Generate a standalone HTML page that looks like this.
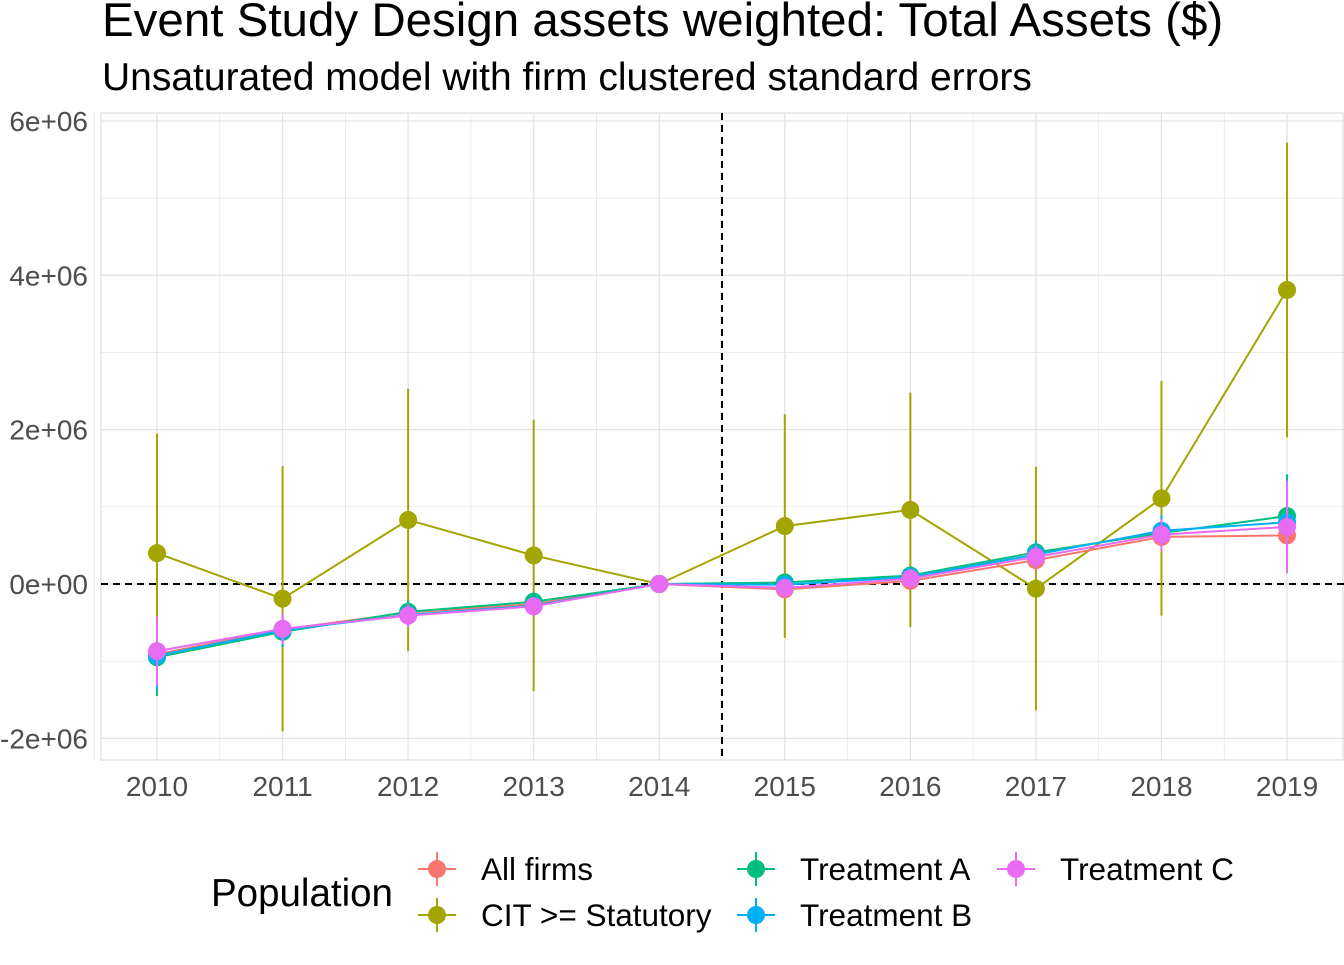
<!DOCTYPE html>
<html><head><meta charset="utf-8"><style>
body{margin:0;background:#fff;width:1344px;height:960px;overflow:hidden;font-family:"Liberation Sans",sans-serif}
</style></head><body>
<svg id="chart" width="1344" height="960" xmlns="http://www.w3.org/2000/svg" font-family="Liberation Sans, sans-serif">
<text x="102" y="36" font-size="47.5" fill="#000">Event Study Design assets weighted: Total Assets ($)</text>
<text x="102" y="90" font-size="39" fill="#000">Unsaturated model with firm clustered standard errors</text>
<g id="grid"></g>
<g id="axes"></g>
<g id="series"></g>
<g id="legend">
<text x="211" y="906" font-size="38.5" fill="#000">Population</text>
</g>
</svg>
<script>
const years = [2010,2011,2012,2013,2014,2015,2016,2017,2018,2019];
const seriesNames = ["All firms","CIT >= Statutory","Treatment A","Treatment B","Treatment C"];
const colors = ["#F8766D","#A3A500","#00BF7D","#00B0F6","#E76BF3"];
const allFirms = [-0.91,-0.59,-0.37,-0.26,0,-0.07,0.04,0.31,0.61,0.63];
const allFirmsSE = [0.25,0.2,0.15,0.12,0,0.1,0.12,0.15,0.2,0.3];
const cit = [0.40,-0.19,0.83,0.37,0,0.75,0.96,-0.06,1.11,3.81];
const citSE = [1.55,1.72,1.70,1.76,0,1.45,1.52,1.58,1.52,1.91];
const treatA = [-0.95,-0.62,-0.36,-0.23,0,0.02,0.11,0.41,0.66,0.88];
const treatASE = [0.5,0.2,0.15,0.12,0,0.1,0.12,0.15,0.2,0.54];
const treatB = [-0.93,-0.60,-0.40,-0.28,0,-0.01,0.09,0.38,0.69,0.80];
const treatBSE = [0.45,0.2,0.15,0.12,0,0.1,0.12,0.15,0.2,0.45];
const treatC = [-0.87,-0.58,-0.41,-0.29,0,-0.05,0.07,0.35,0.64,0.74];
const treatCSE = [0.45,0.2,0.15,0.12,0,0.1,0.12,0.15,0.2,0.6];
const yTicks = [-2,0,2,4,6];
const yTickLabels = ["-2e+06","0e+00","2e+06","4e+06","6e+06"];

const NS="http://www.w3.org/2000/svg";
const PL=101,PR=1344,PT=113,PB=760;
const X=y=>157+(y-2010)*125.56;
const Y=v=>584-v*77.17;
function mk(parent,tag,attrs){const e=document.createElementNS(NS,tag);for(const k in attrs)e.setAttribute(k,attrs[k]);document.getElementById(parent).appendChild(e);return e;}

for(let v=-2;v<=6;v+=1){const e=mk('grid','line',{x1:PL,x2:PR,y1:Y(v),y2:Y(v),stroke:'#e3e3e3','stroke-width':v%2===0?1.3:0.7});

}
for(let yr=2009.5;yr<=2019.5;yr+=0.5){const e=mk('grid','line',{x1:X(yr),x2:X(yr),y1:PT,y2:PB,stroke:'#e3e3e3','stroke-width':Number.isInteger(yr)?1.3:0.7});

}
const fr=mk('grid','rect',{x:PL,y:PT,width:PR-PL-1,height:PB-PT,fill:'none',stroke:'#d6d6d6','stroke-width':1});



yTicks.forEach((t,i)=>{const e=mk('axes','text',{x:88,y:Y(t)+10,'text-anchor':'end','font-size':28,fill:'#4d4d4d'});e.textContent=yTickLabels[i];

});
years.forEach(yr=>{const e=mk('axes','text',{x:X(yr),y:796,'text-anchor':'middle','font-size':28,fill:'#4d4d4d'});e.textContent=yr;

});

const h=mk('axes','line',{x1:PL,x2:PR,y1:Y(0),y2:Y(0),stroke:'#000','stroke-width':2,'stroke-dasharray':'7,5'});


const v=mk('axes','line',{x1:X(2014.5),x2:X(2014.5),y1:PT,y2:PB,stroke:'#000','stroke-width':2,'stroke-dasharray':'7,5'});



const data=[[allFirms,allFirmsSE],[cit,citSE],[treatA,treatASE],[treatB,treatBSE],[treatC,treatCSE]];
const order=[1,0,2,3,4];
order.forEach(si=>{const [vals,se]=data[si];const c=colors[si];
 vals.forEach((val,i)=>{if(se[i]>0){const e=mk('series','line',{x1:X(years[i]),x2:X(years[i]),y1:Y(val+se[i]),y2:Y(val-se[i]),stroke:c,'stroke-width':2});
 
 }});
 const p=mk('series','polyline',{points:vals.map((val,i)=>X(years[i])+','+Y(val)).join(' '),fill:'none',stroke:c,'stroke-width':2});
 
 
 vals.forEach((val,i)=>{const e=mk('series','circle',{cx:X(years[i]),cy:Y(val),r:9,fill:c});
 
 });
});

const legPos=[[437,869],[437,915],[756,869],[756,915],[1016,869]];
seriesNames.forEach((n,i)=>{const [x,y]=legPos[i];const c=colors[i];
 const g=mk('legend','g',{});
 
 
 const a=document.createElementNS(NS,'line');a.setAttribute('x1',x-19);a.setAttribute('x2',x+19);a.setAttribute('y1',y);a.setAttribute('y2',y);a.setAttribute('stroke',c);a.setAttribute('stroke-width',2);g.appendChild(a);
 const b=document.createElementNS(NS,'line');b.setAttribute('x1',x);b.setAttribute('x2',x);b.setAttribute('y1',y-17);b.setAttribute('y2',y+17);b.setAttribute('stroke',c);b.setAttribute('stroke-width',2);g.appendChild(b);
 const ci=document.createElementNS(NS,'circle');ci.setAttribute('cx',x);ci.setAttribute('cy',y);ci.setAttribute('r',9);ci.setAttribute('fill',c);g.appendChild(ci);
 const t=document.createElementNS(NS,'text');t.setAttribute('x',x+44);t.setAttribute('y',y+11);t.setAttribute('font-size',31.5);t.setAttribute('fill','#000');t.textContent=n;g.appendChild(t);
});
</script>
</body></html>
